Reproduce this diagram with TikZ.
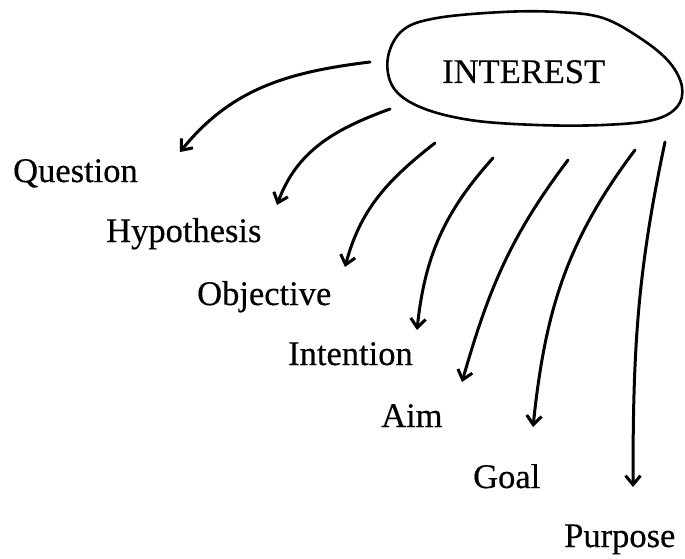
\documentclass[tikz,border=0pt]{standalone}
\usepackage{fontspec}
\setmainfont[FakeBold=0.4]{Liberation Serif}
\usetikzlibrary{arrows.meta}
\begin{document}
\begin{tikzpicture}[x=1pt,y=1pt,
  word/.style={anchor=base west,inner sep=0pt,font=\fontsize{34.5}{40}\selectfont},
  link/.style={line width=3pt,line cap=round,
    -{Straight Barb[length=9pt,width=15pt,line width=3pt]}},
  outline/.style={line width=2.6pt}]
\path[use as bounding box] (0,0) rectangle (685,-559);

% central idea with its hand-drawn loop
\node[word] (interest) at (442,-83) {INTEREST};
\draw[outline] plot[smooth cycle,tension=0.6] coordinates {
  (388,-57) (403,-30) (437,-18) (503,-12) (557,-12) (603,-18) (643,-40)
  (670,-63) (682,-87) (677,-107) (653,-120) (603,-125) (537,-125)
  (470,-120) (420,-107) (393,-87)};

% the seven derived terms
\node[word] (question)   at (13,-182)  {Question};
\node[word] (hypothesis) at (106,-242) {Hypothesis};
\node[word] (objective)  at (197,-305) {Objective};
\node[word] (intention)  at (288,-365) {Intention};
\node[word] (aim)        at (381,-427) {Aim};
\node[word] (goal)       at (473,-488) {Goal};
\node[word] (purpose)    at (564,-547) {Purpose};

% start and end points of the arrows
\coordinate (s1) at (370,-62);  \coordinate (e1) at (180,-152);
\coordinate (s2) at (390,-109); \coordinate (e2) at (277,-205);
\coordinate (s3) at (435,-143); \coordinate (e3) at (345,-267);
\coordinate (s4) at (493,-158); \coordinate (e4) at (417,-330);
\coordinate (s5) at (568,-160); \coordinate (e5) at (462,-382);
\coordinate (s6) at (635,-150); \coordinate (e6) at (533,-427);
\coordinate (s7) at (665,-142); \coordinate (e7) at (633,-487);

\draw[link] (s1) to[out=187,in=51] (e1);
\draw[link] (s2) to[out=200,in=70] (e2);
\draw[link] (s3) to[out=218,in=75] (e3);
\draw[link] (s4) to[out=228,in=84] (e4);
\draw[link] (s5) to[out=233,in=74] (e5);
\draw[link] (s6) to[out=233,in=84] (e6);
\draw[link] (s7) to[out=258,in=90] (e7);
\end{tikzpicture}
\end{document}
